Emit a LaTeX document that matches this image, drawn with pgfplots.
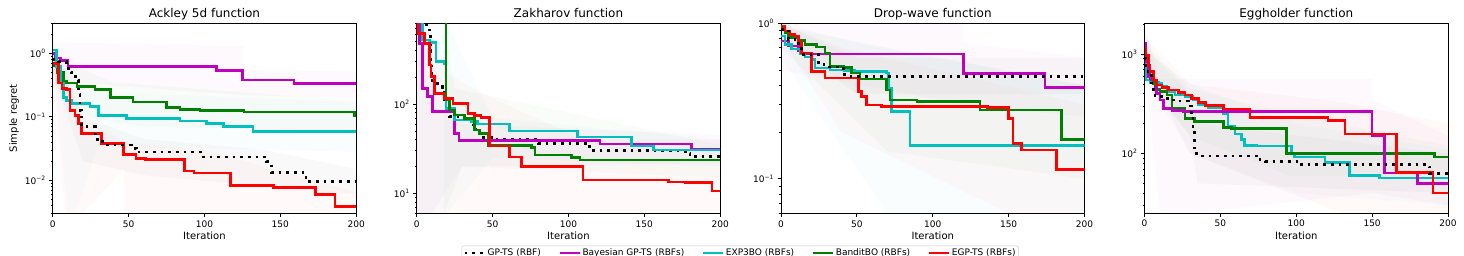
\documentclass[border=0pt]{standalone}
\usepackage{fontspec}
\setmainfont{DejaVu Sans}
\usepackage{pgfplots}
\pgfplotsset{compat=1.18}
\definecolor{mpm}{RGB}{191,0,191}
\definecolor{mpc}{RGB}{0,191,191}
\definecolor{mpg}{RGB}{0,128,0}
\definecolor{mpr}{RGB}{255,0,0}
\pgfplotsset{
  myaxbase/.style={
    scale only axis, width=303.5pt, height=190pt,
    xmin=0, xmax=200,
    xtick={0,50,100,150,200},
    tick align=outside, tick pos=left,
    axis line style={line width=0.8pt},
    major tick length=3.5pt, minor tick length=2pt,
    major tick style={line width=0.8pt, black},
    minor tick style={line width=0.6pt, black},
    xlabel={Iteration},
    tick label style={font=\fontsize{9}{10}\selectfont},
    label style={font=\fontsize{10}{12}\selectfont},
    title style={font=\fontsize{12}{14}\selectfont, text depth=0pt, yshift=-3.5pt},
    /pgf/number format/assume math mode=true,
    xlabel style={yshift=2pt},
  },
  gpts/.style={black, line width=2.7pt, dash pattern=on 2.7pt off 5pt, line cap=butt, const plot},
  bgpts/.style={mpm, line width=2.6pt, const plot},
  exp3/.style={mpc, line width=2.6pt, const plot},
  bandit/.style={mpg, line width=2.6pt, const plot},
  egpts/.style={mpr, line width=2.6pt, const plot},
  band/.style={draw=none, fill=#1, fill opacity=0.025, forget plot},
}
\begin{document}
\begin{tikzpicture}
\useasboundingbox (0,0) rectangle (1464pt,256pt);
% ---------- Ackley ----------
\begin{semilogyaxis}[myaxbase, at={(52.7pt,42.7pt)}, anchor=south west,
  title={Ackley 5d function}, ylabel={Simple regret},
  ymin=0.003, ymax=3,
  ytick={0.01,0.1,1},
  yticklabels={10\textsuperscript{−2},10\textsuperscript{−1},10\textsuperscript{0}},
  minor ytick={0.003,0.004,0.005,0.006,0.007,0.008,0.009,0.02,0.03,0.04,0.05,0.06,0.07,0.08,0.09,0.2,0.3,0.4,0.5,0.6,0.7,0.8,0.9,2,3},
  ylabel style={yshift=-1pt}]
\addplot[band=mpm] coordinates {(0,1.5)(125,1.3)(125,0.55)(200,0.52)(200,0.2)(125,0.22)(10,0.35)(0,0.5)} -- cycle;
\addplot[band=mpc] coordinates {(0,1.5)(20,0.25)(200,0.17)(200,0.028)(30,0.035)(15,0.003)(10,0.003)(0,0.6)} -- cycle;
\addplot[band=mpg] coordinates {(0,0.9)(40,0.35)(200,0.18)(200,0.06)(60,0.07)(20,0.1)(0,0.3)} -- cycle;
\addplot[band=mpr] coordinates {(0,1.0)(10,0.5)(20,0.1)(47,0.04)(100,0.03)(200,0.0065)(200,0.003)(47,0.003)(47,0.015)(20,0.003)(8,0.003)(0,0.4)} -- cycle;
\addplot[band=black] coordinates {(0,1)(20,0.1)(60,0.045)(140,0.03)(200,0.015)(200,0.006)(140,0.008)(60,0.012)(20,0.02)(0,0.5)} -- cycle;
\addplot[bgpts] coordinates {(0,1.0)(2,0.85)(5,0.78)(10,0.62)(108,0.545)(125,0.38)(159,0.336)(200,0.336)};
\addplot[bandit] coordinates {(0,0.65)(3,0.5)(7,0.36)(9,0.34)(16,0.3)(28,0.27)(38,0.2)(53,0.172)(75,0.14)(84,0.13)(97,0.127)(126,0.12)(199,0.106)(200,0.106)};
\addplot[exp3] coordinates {(0,1.13)(2.6,0.62)(5,0.34)(7,0.2)(9,0.183)(12.5,0.162)(24.6,0.147)(30,0.106)(48.8,0.094)(84,0.0865)(101.5,0.0785)(112.5,0.071)(132,0.059)(200,0.059)};
\addplot[egpts] coordinates {(0,0.7)(3.7,0.34)(6,0.28)(9,0.27)(11.4,0.127)(14.7,0.106)(17,0.078)(19,0.0546)(32,0.038)(46.6,0.0254)(55,0.022)(61,0.021)(87,0.014)(93,0.013)(117,0.0083)(145.5,0.0077)(173,0.0059)(186,0.0038)(200,0.0038)};
\addplot[gpts] coordinates {(0,0.8)(4,0.75)(9,0.58)(12,0.5)(15,0.38)(17,0.23)(18,0.127)(19,0.07)(28,0.044)(33,0.036)(52,0.032)(55,0.028)(99,0.0233)(141,0.0195)(144,0.0132)(167,0.0096)(200,0.0096)};
\end{semilogyaxis}
% ---------- Zakharov ----------
\begin{semilogyaxis}[myaxbase, at={(416.7pt,42.7pt)}, anchor=south west,
  title={Zakharov function},
  ymin=6, ymax=800,
  ytick={10,100},
  yticklabels={10\textsuperscript{1},10\textsuperscript{2}},
  minor ytick={6,7,8,9,20,30,40,50,60,70,80,90,200,300,400,500,600,700,800},
  legend style={at={(1.066,-0.1705)}, anchor=north, legend columns=5,
    draw=black!20, rounded corners=2pt, fill=white,
    font=\fontsize{9}{10.5}\selectfont, inner sep=1.5pt,
    /tikz/every even column/.append style={column sep=16pt},
    nodes={inner sep=1.5pt}},
  legend image code/.code={\draw[#1] (0pt,0pt) -- (20pt,0pt);}]
\addplot[band=mpr] coordinates {(0,800)(20,220)(48,120)(110,40)(200,40)(200,6)(48,6)(20,6)(0,6)} -- cycle;
\addplot[band=mpc] coordinates {(0,800)(20,800)(50,70)(200,40)(200,20)(50,25)(20,6)(0,6)} -- cycle;
\addplot[band=mpg] coordinates {(18,800)(25,150)(200,35)(200,15)(30,20)(18,6)} -- cycle;
\addplot[band=mpm] coordinates {(0,800)(10,300)(30,60)(200,45)(200,22)(30,20)(10,6)(0,6)} -- cycle;
\addplot[gpts] coordinates {(0,3000)(4,766)(8.4,591)(9,402)(9.5,311)(10,211)(10.6,170)(17,154)(18,111)(21.6,72)(31.5,69)(37,55.7)(39,47)(41.4,42.4)(51,40.2)(80,36.3)(114,30)(177,28)(180,25.7)(200,25.7)};
\addlegendentry{GP-TS (RBF)}
\addplot[bgpts] coordinates {(0,3000)(1.8,477)(4,150)(7.3,121)(10.6,82)(25,47)(28,38.9)(120.7,35.7)(181,31.1)(200,31.1)};
\addlegendentry{Bayesian GP-TS (RBFs)}
\addplot[exp3] coordinates {(0,3000)(4,520)(8.4,486)(12.8,298)(18,285)(19.4,89)(25,66)(36,63.4)(40,59.7)(61,49.9)(106,43)(141.6,33.9)(156,30.6)(200,30.6)};
\addlegendentry{EXP3BO (RBFs)}
\addplot[bandit] coordinates {(0,3000)(19.4,111)(21.6,85.7)(25,75.4)(31.5,69)(38,51)(41.4,47)(47,34.2)(75.5,32.7)(78,26.8)(102,25.3)(107.5,23.6)(200,23.6)};
\addlegendentry{BanditBO (RBFs)}
\addplot[egpts] coordinates {(0,3000)(0.7,618)(5,477)(8.4,273)(9.5,202)(11.7,132)(18,116)(23.8,101.7)(33.7,78.6)(38,75)(42.5,71)(48,34)(61,25.7)(69,19.9)(109.7,14.1)(166,13.5)(177,13.2)(194.5,10.7)(200,10.7)};
\addlegendentry{EGP-TS (RBFs)}
\end{semilogyaxis}
% ---------- Drop-wave ----------
\begin{semilogyaxis}[myaxbase, at={(781pt,42.7pt)}, anchor=south west,
  title={Drop-wave function},
  ymin=0.06, ymax=1,
  ytick={0.1,1},
  yticklabels={10\textsuperscript{−1},10\textsuperscript{0}},
  minor ytick={0.06,0.07,0.08,0.09,0.2,0.3,0.4,0.5,0.6,0.7,0.8,0.9}]
\addplot[band=mpm] coordinates {(0,1)(120,1)(120,0.75)(200,0.6)(200,0.25)(120,0.3)(0,0.5)} -- cycle;
\addplot[band=mpc] coordinates {(0,0.95)(70,0.7)(200,0.4)(200,0.06)(70,0.06)(0,0.6)} -- cycle;
\addplot[band=mpg] coordinates {(0,1)(50,0.75)(200,0.4)(200,0.1)(70,0.15)(0,0.7)} -- cycle;
\addplot[band=mpr] coordinates {(0,1)(40,0.7)(200,0.3)(200,0.06)(150,0.06)(40,0.2)(0,0.8)} -- cycle;
\addplot[band=black] coordinates {(0,1)(50,0.6)(200,0.6)(200,0.35)(50,0.35)(0,0.8)} -- cycle;
\addplot[bgpts] coordinates {(0,0.77)(4.8,0.713)(11.4,0.662)(13.6,0.636)(120.2,0.474)(174,0.387)(200,0.387)};
\addplot[exp3] coordinates {(0,0.828)(2.6,0.731)(7,0.685)(12.5,0.636)(15.8,0.608)(20,0.585)(22.4,0.516)(32.3,0.5)(42,0.495)(48.8,0.491)(69.7,0.479)(71,0.383)(73,0.27)(85,0.164)(200,0.164)};
\addplot[bandit] coordinates {(0,0.937)(2.6,0.87)(4.8,0.807)(11.4,0.776)(15.8,0.731)(23.5,0.703)(29,0.645)(32.3,0.529)(41,0.52)(46.6,0.479)(52,0.438)(69.7,0.373)(71.9,0.322)(89.5,0.314)(131,0.277)(185,0.179)(200,0.179)};
\addplot[egpts] coordinates {(0,0.961)(2.6,0.892)(6,0.849)(9.2,0.828)(11.4,0.75)(13.6,0.645)(20,0.491)(29,0.445)(51,0.364)(53,0.338)(56.5,0.299)(66.4,0.291)(136,0.288)(150,0.245)(153,0.169)(158.6,0.153)(181.7,0.115)(200,0.115)};
\addplot[gpts] coordinates {(0,0.914)(4.8,0.788)(9.2,0.738)(13.6,0.63)(24.6,0.542)(30,0.524)(41,0.467)(43,0.456)(200,0.456)};
\end{semilogyaxis}
% ---------- Eggholder ----------
\begin{semilogyaxis}[myaxbase, at={(1144.5pt,42.7pt)}, anchor=south west,
  title={Eggholder function},
  ymin=25, ymax=2050,
  ytick={100,1000},
  yticklabels={10\textsuperscript{2},10\textsuperscript{3}},
  minor ytick={30,40,50,60,70,80,90,200,300,400,500,600,700,800,900,2000}]
\addplot[band=mpm] coordinates {(0,2000)(10,560)(150,560)(150,350)(200,150)(200,30)(150,40)(30,25)(10,25)(0,800)} -- cycle;
\addplot[band=mpr] coordinates {(0,1500)(30,500)(130,330)(200,200)(200,25)(130,25)(30,100)(0,800)} -- cycle;
\addplot[band=mpc] coordinates {(0,1100)(30,500)(100,200)(200,110)(200,30)(100,40)(30,100)(0,600)} -- cycle;
\addplot[band=mpg] coordinates {(0,1300)(30,450)(95,250)(200,120)(200,60)(95,60)(30,150)(0,600)} -- cycle;
\addplot[band=black] coordinates {(0,1200)(30,400)(35,200)(200,100)(200,40)(35,50)(30,150)(0,600)} -- cycle;
\addplot[exp3] coordinates {(0,811)(1,551)(3.7,517)(9.2,510)(11.4,479)(14.7,420)(20,388)(26.8,374)(32,351)(35.5,307)(42,291.5)(52,254)(55,186)(59.6,157)(64,138)(66,121)(74,118.6)(97,98.5)(99,92.5)(119,81)(135,60.4)(155,56.8)(200,56.8)};
\addplot[bandit] coordinates {(0,985)(2.6,750)(3.7,573)(6,510)(7,443)(10.3,420)(14.7,388)(18,285)(26.8,226)(33,209)(52,183)(57.5,179)(93.6,100)(191,92.5)(200,92.5)};
\addplot[bgpts] coordinates {(0,1291)(1,843)(2.6,595)(4.8,551)(8,404)(10.3,346)(12.5,285)(18,270)(25.6,264)(150,150)(158,63.8)(180,49.8)(200,49.8)};
\addplot[egpts] coordinates {(0,1150)(1,985)(2.6,780)(3.7,668)(6,551)(8,490)(11.4,464)(15.8,436)(22.4,410)(26.8,388)(31,360)(35.5,325)(40,303)(52,280)(69.5,231)(121,214)(132,157)(166,64.3)(190,40)(200,40)};
\addplot[gpts] coordinates {(0,911)(1,668)(4.8,443)(7,373)(11.4,360)(18,346)(21,338)(29,301)(31,244)(32,186)(33,108)(34.4,94.7)(75,86.9)(79.4,83.7)(103.5,77.4)(186.8,73.3)(188,62.8)(200,62.8)};
\end{semilogyaxis}
\end{tikzpicture}
\end{document}
